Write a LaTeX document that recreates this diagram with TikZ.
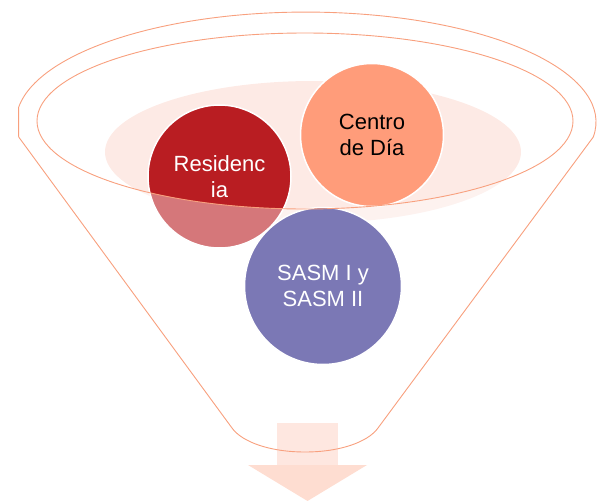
\documentclass[tikz,border=0pt]{standalone}
\usepackage{fontspec}
\setmainfont{Liberation Sans}
\usetikzlibrary{positioning}

\definecolor{funnelline}{HTML}{F8A07E}
\definecolor{paleback}{HTML}{FDEAE5}
\definecolor{resred}{HTML}{B91D22}
\definecolor{daysalmon}{HTML}{FF9C7A}
\definecolor{sasmblue}{HTML}{231E84}
\definecolor{shaftpink}{HTML}{FEE7E0}
\definecolor{headpink}{HTML}{FEDDD1}

% outer body of the funnel, from the left rim down and back up
\newcommand{\funnelbody}{(18.7,137) -- (232,428) .. controls (242,442) and (270,452) .. (305,452)
  .. controls (340,452) and (368,442) .. (378,428) -- (593.3,137)
  arc[start angle=7.8, end angle=-172.2, x radius=290, y radius=110] -- cycle}

\begin{document}
\begin{tikzpicture}[
        x=1pt, y=-1pt,
        bubble/.style={circle, draw=white, line width=1.5pt, inner sep=0pt, align=center, font=\fontsize{22}{26.5}\selectfont},
        rim/.style={draw=funnelline, line width=0.9pt}
      ]
      \useasboundingbox (0,0) rectangle (603,501);

      \fill[paleback] (313,152) ellipse [x radius=208, y radius=71];

      \node (Res) [bubble, fill=resred, text=white, minimum size=143pt] at (219.5,176.5) {Residenc\\ia};
      \node (Dia) [bubble, fill=daysalmon, text=black, minimum size=143pt] at (372,135) {Centro\\de Día};
      \node (Sasm) [bubble, fill=sasmblue, text=white, minimum size=157pt] at (323,286) {SASM I y\\SASM II};

      % front face of the funnel
      \fill[white, fill opacity=0.4, even odd rule] \funnelbody (305,121) ellipse [x radius=268, y radius=88];

      \fill[shaftpink] (277,423) rectangle (338,465);
      \fill[headpink] (248,465) -- (367,465) -- (307.5,501) -- cycle;

      \draw[rim] \funnelbody;
      \draw[rim] (305,121) ellipse [x radius=268, y radius=88];

    \end{tikzpicture}
\end{document}
